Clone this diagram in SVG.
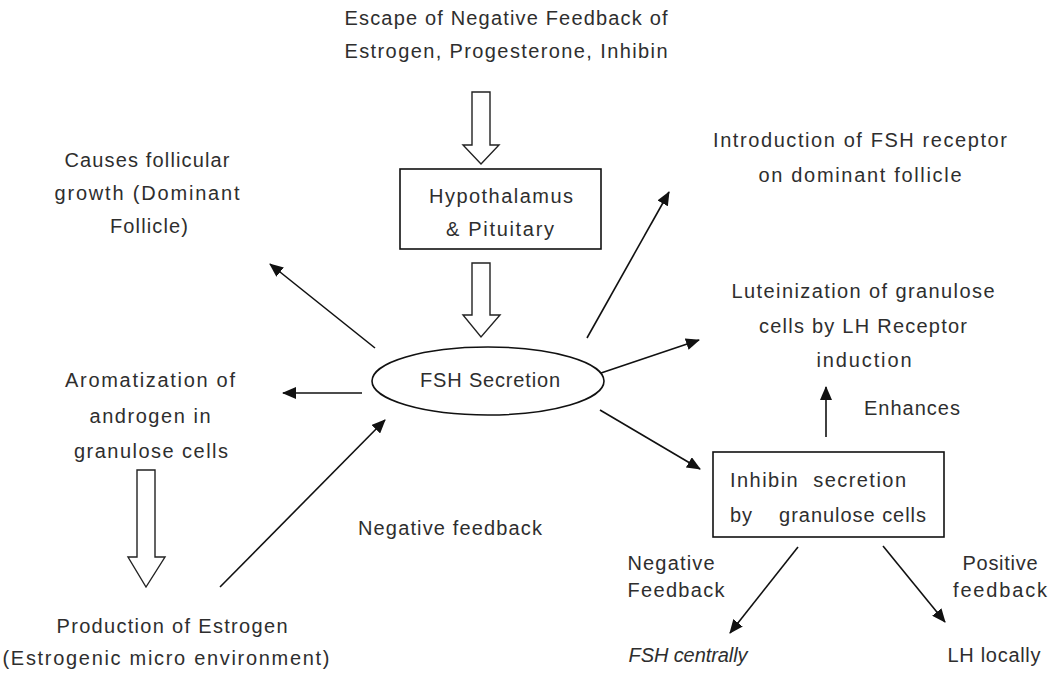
<svg xmlns="http://www.w3.org/2000/svg" width="1053" height="673" viewBox="0 0 1053 673">
<style>
text{font-family:"Liberation Sans",Arial,sans-serif;font-size:20px;fill:#2e2e2e;text-anchor:middle}
.box{fill:#fff;stroke:#111;stroke-width:1.6}
.ln{stroke:#111;stroke-width:1.6;fill:none}
.blk{fill:#fff;stroke:#222;stroke-width:1.4}
.it{font-style:italic}
.st{text-anchor:start}
</style>
<defs>
<marker id="ah" markerUnits="userSpaceOnUse" markerWidth="14" markerHeight="12" refX="13" refY="6" orient="auto">
<path d="M0,0 L14,6 L0,12 Z" fill="#111"/>
</marker>
</defs>
<rect width="1053" height="673" fill="#fff"/>

<g id="escape">
<text x="506" y="25" textLength="323" lengthAdjust="spacing">Escape of Negative Feedback of</text>
<text x="506" y="58" textLength="323" lengthAdjust="spacing">Estrogen, Progesterone, Inhibin</text>
</g>
<g id="hypothalamus">
<rect class="box" x="400" y="169" width="201" height="80"/>
<text x="501" y="203" textLength="144" lengthAdjust="spacing">Hypothalamus</text>
<text x="500" y="236" textLength="108" lengthAdjust="spacing">&amp; Pituitary</text>
</g>
<g id="fsh">
<ellipse class="box" cx="488" cy="381" rx="116" ry="34"/>
<text x="490" y="387" textLength="140" lengthAdjust="spacing">FSH Secretion</text>
</g>
<g id="follicular">
<text x="147" y="167" textLength="165" lengthAdjust="spacing">Causes follicular</text>
<text x="147" y="200" textLength="185" lengthAdjust="spacing">growth (Dominant</text>
<text x="149" y="233" textLength="78" lengthAdjust="spacing">Follicle)</text>
</g>
<g id="aromatization">
<text x="150" y="387" textLength="170" lengthAdjust="spacing">Aromatization of</text>
<text x="150" y="423" textLength="121" lengthAdjust="spacing">androgen in</text>
<text x="151" y="458" textLength="154" lengthAdjust="spacing">granulose cells</text>
</g>
<g id="estrogen">
<text x="172" y="633" textLength="231" lengthAdjust="spacing">Production of Estrogen</text>
<text x="166" y="665" textLength="327" lengthAdjust="spacing">(Estrogenic micro environment)</text>
</g>
<g id="negfb">
<text x="450" y="535" textLength="184" lengthAdjust="spacing">Negative feedback</text>
</g>
<g id="introduction">
<text x="860" y="147" textLength="294" lengthAdjust="spacing">Introduction of FSH receptor</text>
<text x="860" y="182" textLength="203" lengthAdjust="spacing">on dominant follicle</text>
</g>
<g id="luteinization">
<text x="863" y="298" textLength="263" lengthAdjust="spacing">Luteinization of granulose</text>
<text x="863" y="333" textLength="208" lengthAdjust="spacing">cells by LH Receptor</text>
<text x="864" y="367" textLength="95" lengthAdjust="spacing">induction</text>
</g>
<g id="enhances">
<text x="912" y="415" textLength="96" lengthAdjust="spacing">Enhances</text>
</g>
<g id="inhibin">
<rect class="box" x="713" y="452" width="231" height="85"/>
<text x="730" y="487" class="st" textLength="176" lengthAdjust="spacing" xml:space="preserve">Inhibin  secretion</text>
<text x="730" y="522" class="st" textLength="196" lengthAdjust="spacing" xml:space="preserve">by    granulose cells</text>
</g>
<g id="negfeedback2">
<text x="671" y="570" textLength="87" lengthAdjust="spacing">Negative</text>
<text x="676" y="597" textLength="97" lengthAdjust="spacing">Feedback</text>
</g>
<g id="posfeedback">
<text x="1000" y="570" textLength="75" lengthAdjust="spacing">Positive</text>
<text x="1000" y="597" textLength="94" lengthAdjust="spacing">feedback</text>
</g>
<g id="fshcentrally">
<text x="688" y="662" class="it" textLength="119" lengthAdjust="spacing">FSH centrally</text>
</g>
<g id="lhlocally">
<text x="994" y="662" textLength="93" lengthAdjust="spacing">LH locally</text>
</g>

<g id="connectors">
<path class="blk" d="M472,92 H490 V145 H499 L481,164 L463,145 H472 Z"/>
<path class="blk" d="M472,263 H490 V315 H500 L481,337 L463,315 H472 Z"/>
<path class="blk" d="M137,470 H155 V557 H165 L146,587 L128,557 H137 Z"/>
<line class="ln" x1="375" y1="348" x2="270" y2="264" marker-end="url(#ah)"/>
<line class="ln" x1="362" y1="393" x2="283" y2="393" marker-end="url(#ah)"/>
<line class="ln" x1="220" y1="587" x2="385" y2="420" marker-end="url(#ah)"/>
<line class="ln" x1="587" y1="338" x2="669" y2="192" marker-end="url(#ah)"/>
<line class="ln" x1="601" y1="373" x2="699" y2="340" marker-end="url(#ah)"/>
<line class="ln" x1="600" y1="410" x2="700" y2="469" marker-end="url(#ah)"/>
<line class="ln" x1="826" y1="437" x2="826" y2="387" marker-end="url(#ah)"/>
<line class="ln" x1="798" y1="547" x2="730" y2="633" marker-end="url(#ah)"/>
<line class="ln" x1="883" y1="546" x2="945" y2="622" marker-end="url(#ah)"/>
</g>
</svg>
